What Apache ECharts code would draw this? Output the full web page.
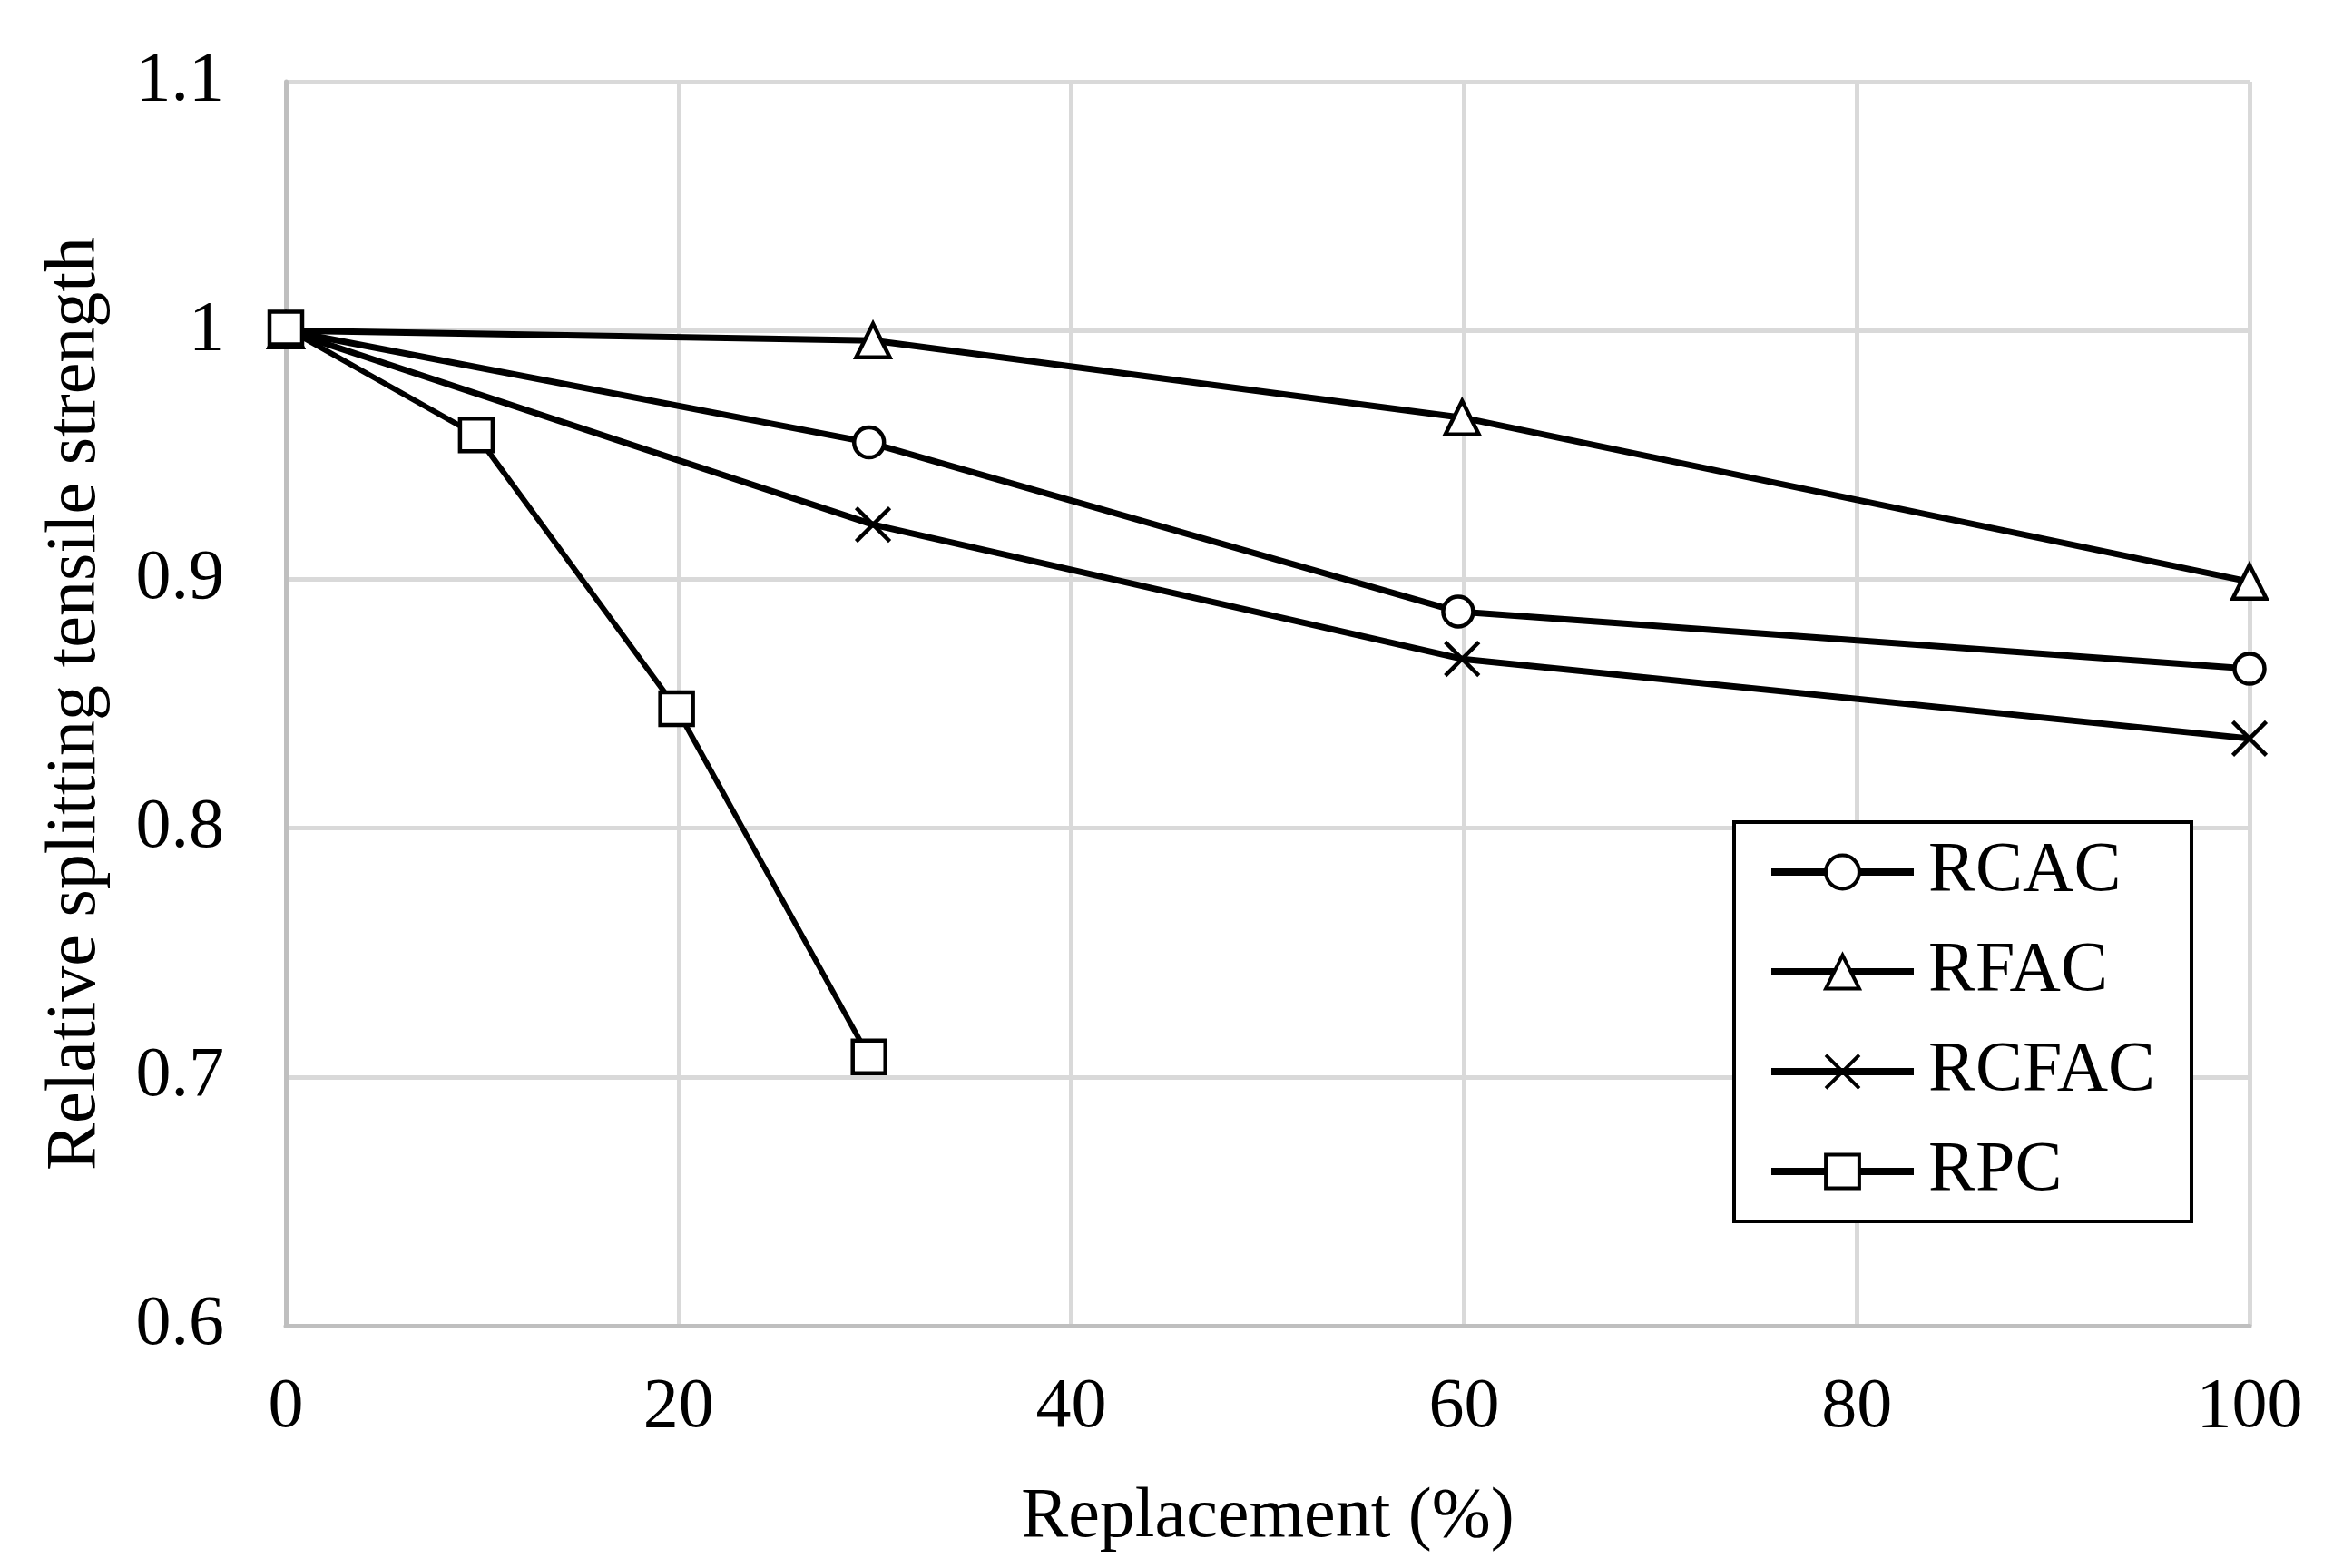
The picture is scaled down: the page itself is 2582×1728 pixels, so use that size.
<!DOCTYPE html>
<html>
<head>
<meta charset="utf-8">
<script src="https://cdn.jsdelivr.net/npm/echarts@6/dist/echarts.min.js"></script>
<style>
html,body{margin:0;padding:0;background:#fff;}
#chart{width:2582px;height:1728px;}
</style>
</head>
<body>
<div id="chart"></div>
<script>
// Data
const seriesNames = ['RCAC', 'RFAC', 'RCFAC', 'RPC'];
const rcacX = [0, 29.7, 59.7, 100];
const rcacY = [1.0, 0.955, 0.887, 0.864];
const rfacX = [0, 29.9, 59.9, 100];
const rfacY = [1.0, 0.996, 0.965, 0.899];
const rcfacX = [0, 29.9, 59.9, 100];
const rcfacY = [1.0, 0.922, 0.868, 0.836];
const rpcX = [0, 9.7, 19.9, 29.7];
const rpcY = [1.001, 0.958, 0.848, 0.708];
const xTicks = [0, 20, 40, 60, 80, 100];
const yTicks = [0.6, 0.7, 0.8, 0.9, 1, 1.1];

const FONT = 'Liberation Serif';
const crossPath = 'path://M0,0L10,10M10,0L0,10';

function pairs(xs, ys) { return xs.map((x, i) => [x, ys[i]]); }

function mkSeries(name, xs, ys, symbol, size, lw) {
  return {
    name: name,
    type: 'line',
    data: pairs(xs, ys),
    symbol: symbol,
    symbolSize: size,
    showAllSymbol: true,
    lineStyle: { color: '#000', width: lw },
    itemStyle: { color: '#fff', borderColor: '#000', borderWidth: 4.5 },
    emphasis: { disabled: true },
    animation: false
  };
}

const chart = echarts.init(document.getElementById('chart'));
chart.setOption({
  backgroundColor: '#fff',
  animation: false,
  grid: { left: 315, right: 103, top: 90, bottom: 267, containLabel: false },
  xAxis: {
    type: 'value',
    min: xTicks[0], max: xTicks[xTicks.length - 1], interval: 20,
    name: 'Replacement (%)',
    nameLocation: 'middle',
    nameGap: 173,
    nameTextStyle: { fontFamily: FONT, fontSize: 78, color: '#000' },
    axisLine: { show: true, lineStyle: { color: '#bfbfbf', width: 5 } },
    axisTick: { show: false },
    axisLabel: { fontFamily: FONT, fontSize: 78, color: '#000', margin: 52 },
    splitLine: { show: true, lineStyle: { color: '#d9d9d9', width: 5 } }
  },
  yAxis: {
    type: 'value',
    min: yTicks[0], max: yTicks[yTicks.length - 1], interval: 0.1,
    name: 'Relative splitting tensile strength',
    nameLocation: 'middle',
    nameGap: 192,
    nameTextStyle: { fontFamily: FONT, fontSize: 78, color: '#000' },
    axisLine: { show: true, lineStyle: { color: '#bfbfbf', width: 5 } },
    axisTick: { show: false },
    axisLabel: {
      fontFamily: FONT, fontSize: 78, color: '#000', margin: 68,
      formatter: v => String(parseFloat(v.toFixed(1)))
    },
    splitLine: { show: true, lineStyle: { color: '#d9d9d9', width: 5 } }
  },
  legend: {
    data: seriesNames,
    orient: 'vertical',
    left: 1911, top: 906,
    backgroundColor: '#fff',
    borderColor: '#000',
    borderWidth: 4,
    padding: [16, 40, 16, 37],
    itemWidth: 157,
    itemHeight: 46,
    itemGap: 32,
    selectedMode: false,
    lineStyle: { width: 8 },
    itemStyle: { borderWidth: 4 },
    textStyle: { fontFamily: FONT, fontSize: 78, color: '#000', lineHeight: 78, padding: [0, 0, 0, 11] }
  },
  series: [
    mkSeries(seriesNames[0], rcacX, rcacY, 'circle', 33, 7),
    mkSeries(seriesNames[1], rfacX, rfacY, 'triangle', 37, 7),
    mkSeries(seriesNames[2], rcfacX, rcfacY, crossPath, 37, 7),
    mkSeries(seriesNames[3], rpcX, rpcY, 'rect', 36, 6)
  ]
});
</script>
</body>
</html>
